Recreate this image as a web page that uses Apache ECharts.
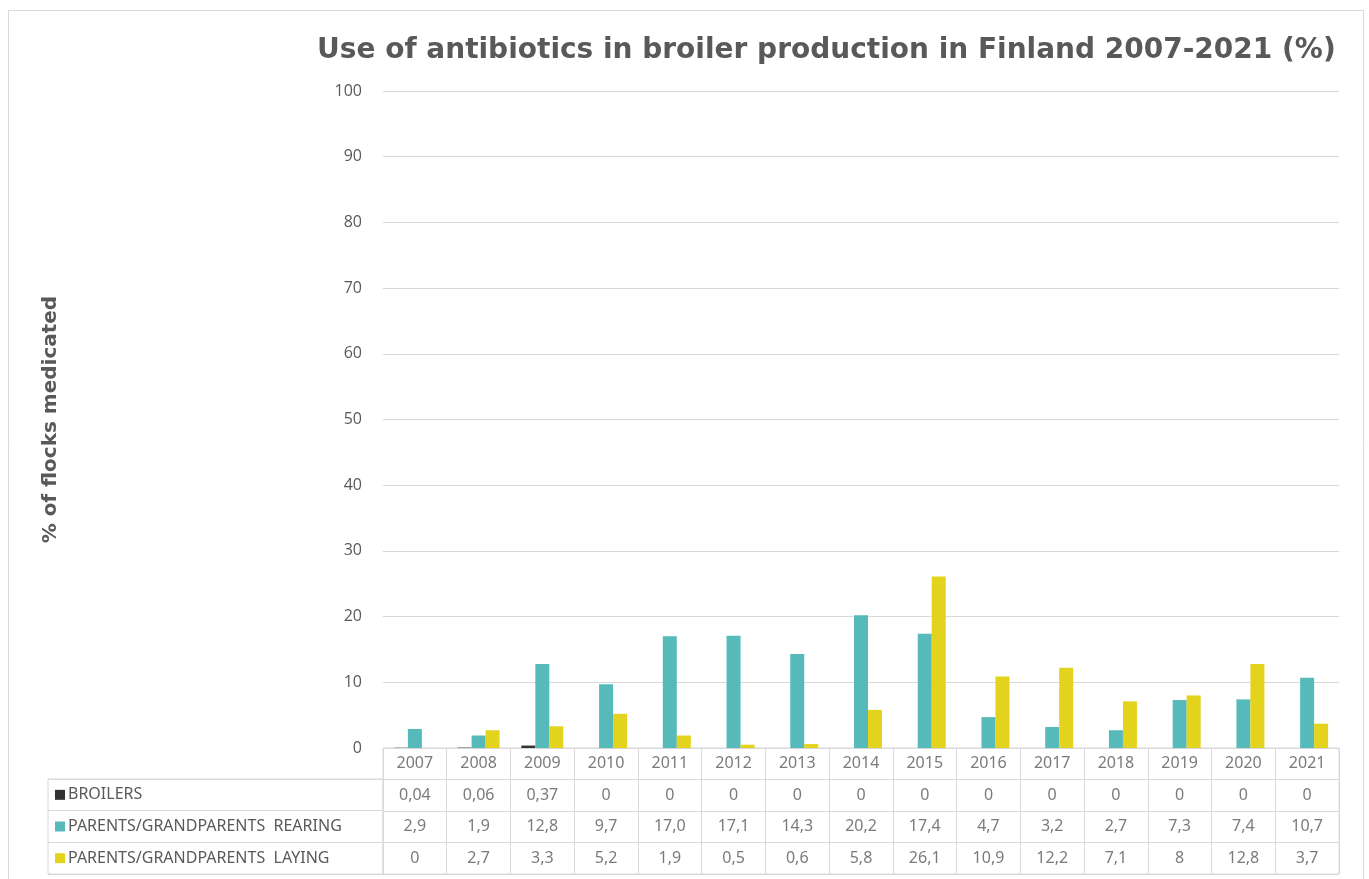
<!DOCTYPE html>
<html>
<head>
<meta charset="utf-8">
<script src="https://cdn.jsdelivr.net/npm/echarts@6/dist/echarts.min.js"></script>
<style>html,body{margin:0;padding:0;background:#fff;}#c{width:1369px;height:879px;}</style>
</head>
<body>
<div id="c"></div>
<script>
var years = ['2007','2008','2009','2010','2011','2012','2013','2014','2015','2016','2017','2018','2019','2020','2021'];
var seriesNames = ['BROILERS', 'PARENTS/GRANDPARENTS  REARING', 'PARENTS/GRANDPARENTS  LAYING'];
var broilers = [0.04, 0.06, 0.37, 0, 0, 0, 0, 0, 0, 0, 0, 0, 0, 0, 0];
var rearing = [2.9, 1.9, 12.8, 9.7, 17.0, 17.1, 14.3, 20.2, 17.4, 4.7, 3.2, 2.7, 7.3, 7.4, 10.7];
var laying = [0, 2.7, 3.3, 5.2, 1.9, 0.5, 0.6, 5.8, 26.1, 10.9, 12.2, 7.1, 8, 12.8, 3.7];
var broilersText = ['0,04','0,06','0,37','0','0','0','0','0','0','0','0','0','0','0','0'];
var rearingText = ['2,9','1,9','12,8','9,7','17,0','17,1','14,3','20,2','17,4','4,7','3,2','2,7','7,3','7,4','10,7'];
var layingText = ['0','2,7','3,3','5,2','1,9','0,5','0,6','5,8','26,1','10,9','12,2','7,1','8','12,8','3,7'];
var yTicks = [0, 100, 10];
var colors = ['#333333', '#55BAB9', '#E3D31D'];

var textColor = '#595959';
var lineColor = '#d9d9d9';
var tableFont = "'Liberation Sans Narrow', 'Noto Sans', sans-serif";

var tableRows = [years, broilersText, rearingText, layingText];
var cellData = [];
tableRows.forEach(function (row, r) {
  row.forEach(function (t, c) { cellData.push([c, r, t]); });
});

var chart = echarts.init(document.getElementById('c'));
chart.setOption({
  animation: false,
  backgroundColor: '#ffffff',
  title: {
    text: 'Use of antibiotics in broiler production in Finland 2007-2021 (%)',
    left: 312, top: 32,
    textStyle: { fontFamily: "'DejaVu Sans', sans-serif", fontWeight: 'bold', fontSize: 28, color: textColor }
  },
  graphic: [{
    type: 'rect', silent: true, z: -10,
    shape: { x: 8.5, y: 10.5, width: 1355, height: 900 },
    style: { fill: 'none', stroke: lineColor, lineWidth: 1 }
  }],
  grid: [
    { left: 383, top: 91, width: 956, height: 657 },
    { left: 383, top: 748, width: 956, height: 126, show: true, borderColor: lineColor, borderWidth: 1, backgroundColor: 'transparent' },
    { left: 48, top: 779, width: 335, height: 95, show: true, borderColor: lineColor, borderWidth: 1, backgroundColor: 'transparent' }
  ],
  xAxis: [
    { type: 'category', gridIndex: 0, data: years, axisLine: { show: false }, axisTick: { show: false }, axisLabel: { show: false } },
    { type: 'category', gridIndex: 1, data: years, axisLine: { show: false }, axisTick: { show: false }, axisLabel: { show: false },
      splitLine: { show: true, interval: 0, lineStyle: { color: lineColor, width: 1 } } },
    { type: 'value', gridIndex: 2, show: false, min: 0, max: 1 }
  ],
  yAxis: [
    { type: 'value', gridIndex: 0, min: yTicks[0], max: yTicks[1], interval: yTicks[2],
      name: '% of flocks medicated', nameLocation: 'middle', nameGap: 322, nameRotate: 90,
      nameTextStyle: { fontFamily: "'DejaVu Sans', sans-serif", fontWeight: 'bold', fontSize: 20, color: textColor },
      axisLine: { show: false }, axisTick: { show: false },
      axisLabel: { color: textColor, fontSize: 16, margin: 21, fontFamily: "'Open Sans', sans-serif" },
      splitLine: { lineStyle: { color: lineColor, width: 1 } } },
    { type: 'category', gridIndex: 1, inverse: true, data: ['year'].concat(seriesNames),
      axisLine: { show: false }, axisTick: { show: false }, axisLabel: { show: false },
      splitLine: { show: true, interval: 0, lineStyle: { color: lineColor, width: 1 } } },
    { type: 'category', gridIndex: 2, inverse: true, data: seriesNames,
      axisLine: { show: false }, axisTick: { show: false },
      axisLabel: { inside: true, margin: 7, interval: 0,
        formatter: function (v, i) { return '{s' + i + '|}{t|' + v + '}'; },
        rich: {
          s0: { width: 10, height: 10, backgroundColor: colors[0] },
          s1: { width: 10, height: 10, backgroundColor: colors[1] },
          s2: { width: 10, height: 10, backgroundColor: colors[2] },
          t: { color: textColor, fontSize: 16, fontFamily: tableFont, padding: [0, 0, 0, 3] }
        } },
      splitLine: { show: true, interval: 0, lineStyle: { color: lineColor, width: 1 } } }
  ],
  series: [
    { name: seriesNames[0], type: 'bar', xAxisIndex: 0, yAxisIndex: 0, data: broilers, barWidth: 14, barGap: '0%', itemStyle: { color: colors[0] } },
    { name: seriesNames[1], type: 'bar', xAxisIndex: 0, yAxisIndex: 0, data: rearing, barWidth: 14, barGap: '0%', itemStyle: { color: colors[1] } },
    { name: seriesNames[2], type: 'bar', xAxisIndex: 0, yAxisIndex: 0, data: laying, barWidth: 14, barGap: '0%', itemStyle: { color: colors[2] } },
    { type: 'scatter', xAxisIndex: 1, yAxisIndex: 1, data: cellData, symbolSize: 1,
      itemStyle: { color: 'rgba(0,0,0,0)' },
      label: { show: true, position: 'inside', color: textColor, fontSize: 16, fontFamily: tableFont,
        formatter: function (p) { return p.data[2]; } } }
  ]
});
</script>
</body>
</html>
